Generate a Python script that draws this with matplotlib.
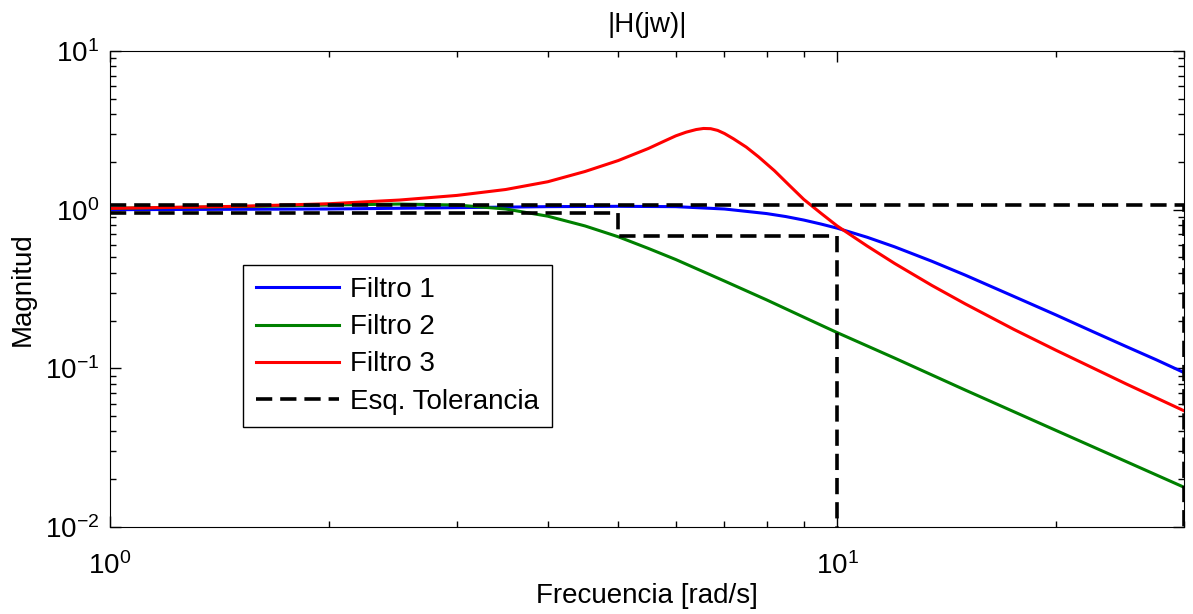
import matplotlib
matplotlib.use('Agg')
import matplotlib.pyplot as plt
from matplotlib.ticker import LogLocator, NullFormatter

plt.rcParams['font.family'] = ['Liberation Sans', 'DejaVu Sans']
plt.rcParams['mathtext.fontset'] = 'custom'
plt.rcParams['mathtext.rm'] = 'Liberation Sans'
plt.rcParams['mathtext.it'] = 'Liberation Sans'
plt.rcParams['mathtext.default'] = 'regular'

# frecuencias (rad/s) y magnitudes
w1 = [1, 2, 3, 4, 5, 6, 7, 8, 8.5, 9, 9.5, 10, 11, 12, 13.5, 15, 17.5, 20, 22.5, 25, 27.5, 30]
filtro1 = [1.0, 1.01, 1.03, 1.045, 1.05, 1.045, 1.01, 0.945, 0.905, 0.86, 0.812, 0.765,
           0.67, 0.583, 0.473, 0.387, 0.284, 0.217, 0.170, 0.137, 0.113, 0.094]

w2 = [1, 1.5, 2, 2.5, 3, 3.5, 4, 4.5, 5, 5.5, 6, 7, 8, 9, 10, 12, 15, 20, 25, 30]
filtro2 = [1.02, 1.045, 1.07, 1.085, 1.07, 1.01, 0.91, 0.79, 0.675, 0.57, 0.485, 0.355,
           0.27, 0.21, 0.168, 0.116, 0.073, 0.0406, 0.0258, 0.0178]

w3 = [1, 1.5, 2, 2.5, 3, 3.5, 4, 4.5, 5, 5.5, 5.8, 6.0, 6.2, 6.4, 6.55, 6.7, 6.85,
      7.0, 7.2, 7.5, 7.8, 8.2, 8.6, 9.0, 9.5, 10, 11, 12, 13.5, 15, 17.5, 20, 25, 30]
filtro3 = [1.02, 1.05, 1.09, 1.15, 1.23, 1.34, 1.5, 1.74, 2.04, 2.43, 2.72, 2.92, 3.08,
           3.2, 3.25, 3.24, 3.16, 3.02, 2.8, 2.48, 2.15, 1.76, 1.42, 1.16, 0.95, 0.79,
           0.59, 0.458, 0.333, 0.255, 0.176, 0.130, 0.0796, 0.054]

# esquema de tolerancia
tol_inf_w = [1, 5, 5, 10, 10]
tol_inf = [0.955, 0.955, 0.68, 0.68, 0.001]
tol_sup_w = [1, 30, 30]
tol_sup = [1.07, 1.07, 0.001]

fig = plt.figure(figsize=(11.93, 6.14), dpi=100)
ax = fig.add_axes([0.0922, 0.1417, 0.9003, 0.7752])

ax.loglog(w1, filtro1, color=(0, 0, 1), lw=2.2, label='Filtro 1')
ax.loglog(w2, filtro2, color=(0, 0.5, 0), lw=2.2, label='Filtro 2')
ax.loglog(w3, filtro3, color=(1, 0, 0), lw=2.2, label='Filtro 3')
ax.loglog(tol_inf_w, tol_inf, color='k', lw=2.6, dashes=[4.5, 2.2], label='Esq. Tolerancia')
ax.loglog(tol_sup_w, tol_sup, color='k', lw=2.6, dashes=[4.5, 2.2])

ax.set_xlim(1, 30)
ax.set_ylim(0.01, 10)

ax.xaxis.set_major_locator(LogLocator(base=10))
ax.xaxis.set_minor_locator(LogLocator(base=10, subs=range(2, 10)))
ax.xaxis.set_minor_formatter(NullFormatter())
ax.yaxis.set_minor_locator(LogLocator(base=10, subs=range(2, 10)))
ax.yaxis.set_minor_formatter(NullFormatter())
ax.tick_params(which='both', direction='in', top=True, right=True, labelsize=20)
ax.tick_params(which='major', length=8, width=1)
ax.tick_params(which='minor', length=4, width=1)
ax.tick_params(axis='x', pad=18)
ax.tick_params(axis='y', pad=8)

ax.set_title('|H(jw)|', fontsize=20, pad=14)
ax.set_xlabel('Frecuencia [rad/s]', fontsize=20, labelpad=2)
ax.set_ylabel('Magnitud', fontsize=20, labelpad=6)

leg = ax.legend(loc='lower left', bbox_to_anchor=(0.124, 0.21), fontsize=20,
                fancybox=False, edgecolor='k', framealpha=1, borderaxespad=0,
                handlelength=3.0, handletextpad=0.4, labelspacing=0.4,
                borderpad=0.45)
leg.get_frame().set_linewidth(1)

fig.savefig('out.png', dpi=100)
